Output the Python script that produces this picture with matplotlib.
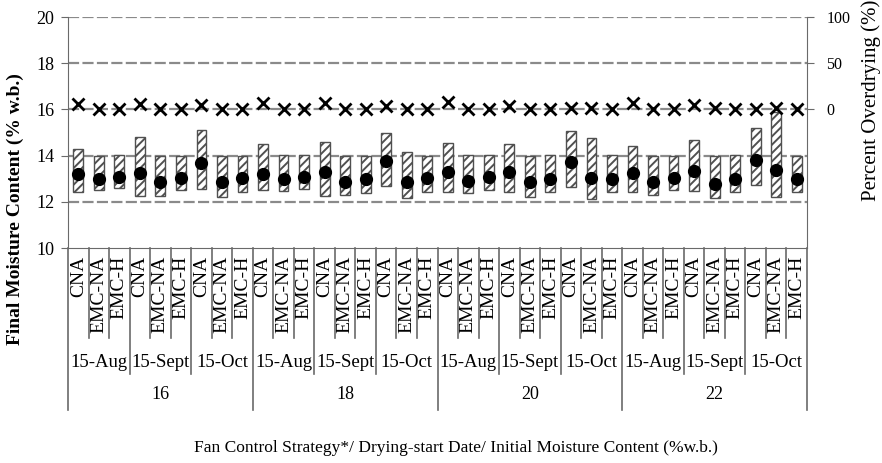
import matplotlib
matplotlib.use("Agg")
import matplotlib.pyplot as plt
import matplotlib.transforms as mtransforms
import numpy as np

plt.rcParams["font.family"] = "Liberation Serif"
plt.rcParams["hatch.linewidth"] = 1.4

# Data
moisture = ["16", "18", "20", "22"]
dates = ["15-Aug", "15-Sept", "15-Oct"]
strategies = ["CNA", "EMC-NA", "EMC-H"]

fmc_max = [14.29, 14.00, 14.03, 14.81, 14.00, 14.00, 15.10, 14.00, 14.00,
           14.49, 14.03, 14.03, 14.60, 14.00, 14.00, 14.96, 14.14, 14.00,
           14.56, 14.03, 14.03, 14.49, 14.00, 14.03, 15.06, 14.77, 14.03,
           14.41, 14.00, 14.00, 14.67, 14.00, 14.03, 15.21, 15.89, 14.00]
fmc_min = [12.41, 12.50, 12.60, 12.24, 12.24, 12.49, 12.57, 12.20, 12.41,
           12.50, 12.46, 12.57, 12.24, 12.29, 12.39, 12.67, 12.17, 12.41,
           12.41, 12.36, 12.53, 12.41, 12.21, 12.41, 12.64, 12.14, 12.41,
           12.41, 12.31, 12.53, 12.46, 12.17, 12.43, 12.71, 12.20, 12.43]
fmc_mean = [13.20, 12.99, 13.06, 13.24, 12.84, 13.03, 13.70, 12.86, 13.03,
            13.20, 12.99, 13.07, 13.27, 12.86, 12.99, 13.77, 12.86, 13.03,
            13.30, 12.91, 13.06, 13.27, 12.84, 12.99, 13.74, 13.03, 12.99,
            13.24, 12.86, 13.03, 13.34, 12.79, 12.99, 13.81, 13.36, 12.99]
overdrying = [6, 0, 0, 6, 0, 0, 5, 0, 0,
              7, 0, 0, 7, 0, 0, 4, 0, 0,
              8, 0, 0, 4, 0, 0, 2, 2, 0,
              7, 0, 0, 5, 1, 0, 0, 2, 0]

n = len(fmc_mean)
x = np.arange(n)
line_col = "#6a6a6a"

fig = plt.figure(figsize=(8.82, 4.63), dpi=100)
ax = fig.add_axes([68 / 882, 1 - 248 / 463, (807 - 68) / 882, 231 / 463])

# Floating range bars
heights = np.array(fmc_max) - np.array(fmc_min)
ax.bar(x, heights, bottom=fmc_min, width=0.48, facecolor="white",
       edgecolor="#505050", hatch="////", linewidth=1.0, zorder=3)
ax.plot(x, fmc_mean, "o", color="black", markersize=8.5, zorder=4)

ax.set_xlim(-0.5, n - 0.5)
ax.set_ylim(10, 20)
ax.set_yticks(np.arange(10, 21, 2))
ax.set_xticks([])
for v in range(12, 21, 2):
    ax.axhline(v, color="#8a8a8a", linestyle=(0, (5, 1.5)), linewidth=1.6, zorder=1)
for s in ["top", "right"]:
    ax.spines[s].set_visible(False)
ax.spines["left"].set_color(line_col)
ax.spines["bottom"].set_color(line_col)
ax.tick_params(axis="y", direction="out", length=5, color=line_col,
               labelsize=13, pad=5)
ax.set_ylabel("Final Moisture Content (% w.b.)", fontsize=14, fontweight="bold")
ax.yaxis.set_label_coords(-44 / 739, 0.17)

# Right axis: percent overdrying
ax2 = ax.twinx()
ax2.plot(x, overdrying, "x", color="black", markersize=8.5, markeredgewidth=2, zorder=5)
ax2.set_ylim(-150, 100)
ax2.set_yticks([0, 50, 100])
for s in ["top", "left", "bottom"]:
    ax2.spines[s].set_visible(False)
ax2.spines["right"].set_color(line_col)
ax2.tick_params(axis="y", direction="out", length=5, color=line_col,
                labelsize=11.5, pad=9)
ax2.set_ylabel("Percent Overdrying (%)", fontsize=15)
ax2.yaxis.set_label_coords(1 + 54 / 739, 0.64)

# Hierarchical category axis
trans = mtransforms.blended_transform_factory(ax.transData, ax.transAxes)
y_cat, y_date, y_moist = -0.39, -0.545, -0.70
for i in range(n + 1):
    b = i - 0.5
    if i % 9 == 0:
        y_end = y_moist
    elif i % 3 == 0:
        y_end = y_date
    else:
        y_end = y_cat
    ax.plot([b, b], [0, y_end], color=line_col, linewidth=1.2,
            transform=trans, clip_on=False)

for i in range(n):
    ax.text(x[i], -0.035, strategies[i % 3], rotation=90, ha="center", va="top",
            fontsize=14, transform=trans)
for j in range(len(moisture) * len(dates)):
    ax.text(3 * j + 1, -0.495, dates[j % 3], ha="center", va="center",
            fontsize=13.5, transform=trans)
for k in range(len(moisture)):
    ax.text(9 * k + 4, -0.635, moisture[k], ha="center", va="center",
            fontsize=13, transform=trans)

fig.text(456 / 882, 1 - 448 / 463,
         "Fan Control Strategy*/ Drying-start Date/ Initial Moisture Content (%w.b.)",
         ha="center", va="center", fontsize=12.5)

fig.savefig("out.png", dpi=100, facecolor="white")
